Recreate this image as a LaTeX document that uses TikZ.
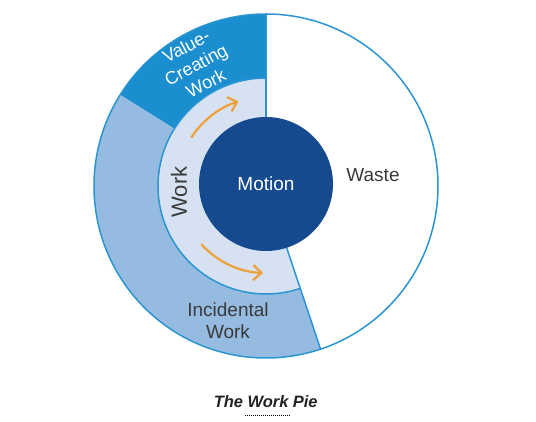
\documentclass[tikz,border=0pt]{standalone}
\usepackage{fontspec}
\setmainfont{Liberation Sans}
\usetikzlibrary{positioning,arrows.meta}

\definecolor{pieline}{HTML}{2B95D2}
\definecolor{valuefill}{HTML}{1A8ECF}
\definecolor{incfill}{HTML}{95BBE0}
\definecolor{workfill}{HTML}{D6E2F1}
\definecolor{motionfill}{HTML}{164A8E}
\definecolor{arroworange}{HTML}{EEA03A}
\definecolor{textgray}{HTML}{3A3A3A}
\definecolor{captext}{HTML}{222222}

\begin{document}
\begin{tikzpicture}[x = 1pt, y = 1pt,
    piece/.style = {text = textgray, font = \fontsize{19}{22}\selectfont, align = center, inner sep = 0pt},
    edge/.style = {draw = pieline, line width = 1.5pt},
    flow/.style = {draw = arroworange, line width = 2.2pt, -{Straight Barb[length=8pt,width=15pt]}},
    captionword/.style = {font = \fontsize{16.5}{18}\selectfont\bfseries\itshape, text = captext, inner sep = 0pt}]
    \useasboundingbox (-266,-236) rectangle (270,186);

    \fill [valuefill]
    (90:108) -- (90:172) arc (90:148:172) --
    (148:108) arc (148:90:108) -- cycle;

    \fill [incfill]
    (148:108) -- (148:172) arc (148:288.5:172) --
    (288.5:108) arc (288.5:148:108) -- cycle;

    \fill [workfill]
    (90:60) -- (90:108) arc (90:288.5:108) --
    (288.5:60) arc (288.5:90:60) -- cycle;

    \draw [edge] (0,0) circle (172);
    \draw [edge] (90:172) -- (90:60);
    \draw [edge] (288.5:172) -- (288.5:60);
    \draw [edge] (90:108) arc (90:288.5:108);

    \node [circle, fill = motionfill, minimum size = 134pt, inner sep = 0pt,
        text = white, font = \fontsize{19}{22}\selectfont] (motion) at (0,2) {Motion};

    \draw [flow] (147:89) arc (147:108:89);
    \draw [flow] (222:87) arc (222:268:87);

    \node [piece] (waste) at (107,11) {Waste};
    \node [piece, font = \fontsize{22}{24}\selectfont, rotate = 90] (work) at (-87,-6) {Work};
    \node [piece] (incidental) at (-38,-135) {Incidental\\Work};
    \node [piece, text = white, font = \fontsize{18}{21}\selectfont, rotate = 28]
        (valuework) at (120:140) {Value-\\Creating\\Work};

    \node [captionword] (capwork) at (2,-216) {Work};
    \node [captionword, base left = 4pt of capwork] (capthe) {The};
    \node [captionword, base right = 4pt of capwork] (cappie) {Pie};
    \draw [dash pattern = on 1pt off 1pt, line width = 1pt]
    ([xshift=-2pt,yshift=-7pt]capwork.south west) -- ([xshift=2pt,yshift=-7pt]capwork.south east);
\end{tikzpicture}
\end{document}
